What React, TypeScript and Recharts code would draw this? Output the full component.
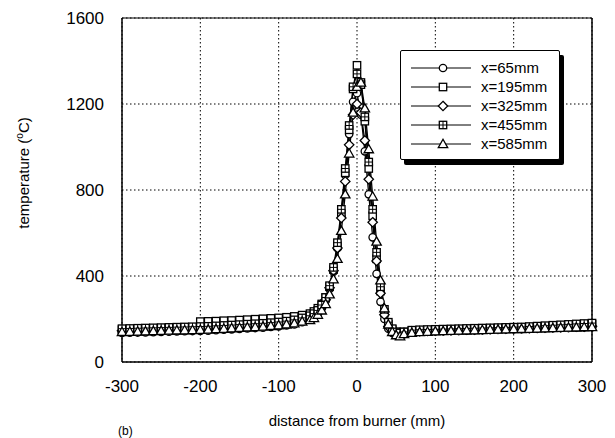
import React from "react"
import {
  LineChart,
  Line,
  XAxis,
  YAxis,
  CartesianGrid,
  ReferenceLine,
} from "recharts"

// distance from burner (mm)
const xs = [
  -300, -290, -280, -270, -260, -250, -240, -230, -220, -210, -200, -190,
  -180, -170, -160, -150, -140, -130, -120, -110, -100, -90, -80, -70,
  -60, -55, -50, -45, -40, -35, -30, -25, -20, -15, -10, -5, 0, 5, 10, 15,
  20, 25, 30, 35, 40, 45, 50, 55, 60,
  70, 80, 90, 100, 110, 120, 130, 140, 150, 160, 170, 180, 190, 200, 210,
  220, 230, 240, 250, 260, 270, 280, 290, 300,
]

// temperature (°C) for each measuring station
const x65 = [
  135, 136, 137, 138, 139, 140, 141, 142, 143, 144, 145, 146, 148, 150, 152,
  154, 156, 158, 160, 163, 166, 170, 175, 185,
  200, 210, 225, 250, 285, 340, 420, 530, 680, 870, 1060, 1210, 1250, 1150,
  980, 780, 580, 410, 280, 200, 155, 135, 125, 125, 130,
  138, 140, 141, 142, 143, 144, 145, 146, 147, 148, 149, 150, 151, 152, 153,
  154, 155, 156, 157, 158, 159, 160, 161, 162,
]
const x195 = [
  150, 150, 152, 153, 154, 155, 156, 157, 158, 160, 188, 189, 190, 192, 193,
  195, 197, 199, 201, 203, 205, 208, 212, 218,
  225, 235, 250, 270, 300, 350, 430, 540, 690, 880, 1080, 1270, 1380, 1300,
  1120, 900, 680, 480, 330, 230, 175, 150, 140, 135, 140,
  145, 147, 148, 149, 150, 151, 152, 153, 154, 155, 156, 157, 158, 159, 160,
  161, 162, 164, 166, 168, 170, 172, 174, 176,
]
const x325 = [
  145, 146, 147, 148, 149, 150, 151, 152, 153, 154, 155, 156, 158, 160, 162,
  164, 166, 168, 170, 173, 176, 180, 186, 195,
  205, 215, 230, 255, 290, 345, 425, 530, 670, 840, 1010, 1150, 1200, 1160,
  1030, 850, 650, 470, 320, 220, 165, 140, 130, 128, 135,
  142, 144, 145, 146, 147, 148, 149, 150, 151, 152, 153, 154, 155, 156, 157,
  158, 159, 160, 161, 162, 163, 164, 165, 166,
]
const x455 = [
  155, 156, 157, 158, 159, 160, 161, 162, 163, 164, 165, 166, 168, 170, 172,
  174, 176, 178, 180, 183, 186, 190, 196, 205,
  215, 225, 240, 265, 300, 355, 440, 555, 710, 900, 1100, 1280, 1340, 1290,
  1140, 930, 710, 510, 350, 245, 185, 155, 140, 135, 140,
  148, 150, 151, 152, 153, 154, 155, 156, 157, 158, 159, 160, 161, 162, 163,
  165, 167, 169, 171, 173, 175, 177, 179, 181,
]
const x585 = [
  140, 141, 142, 143, 144, 145, 146, 147, 148, 149, 150, 151, 153, 155, 157,
  159, 161, 163, 165, 168, 171, 175, 180, 188,
  195, 205, 220, 240, 270, 315, 385, 480, 610, 780, 970, 1160, 1280, 1300,
  1180, 990, 770, 560, 380, 250, 175, 140, 125, 120, 130,
  136, 139, 141, 143, 144, 145, 146, 147, 148, 149, 150, 151, 152, 153, 154,
  155, 156, 157, 158, 159, 160, 161, 162, 163,
]

const xTicks = [-300, -200, -100, 0, 100, 200, 300]
const yTicks = [0, 400, 800, 1200, 1600]

const series = [
  { key: "x65", name: "x=65mm", shape: "circle" },
  { key: "x195", name: "x=195mm", shape: "square" },
  { key: "x325", name: "x=325mm", shape: "diamond" },
  { key: "x455", name: "x=455mm", shape: "squarePlus" },
  { key: "x585", name: "x=585mm", shape: "triangle" },
]

const data = xs.map((x, i) => ({
  x,
  x65: x65[i],
  x195: x195[i],
  x325: x325[i],
  x455: x455[i],
  x585: x585[i],
}))

const FONT = "'Liberation Sans', Arial, Helvetica, sans-serif"

function Marker({ shape, cx, cy }: { shape: string; cx: number; cy: number }) {
  const s = 3.7
  const st = { fill: "#fff", stroke: "#000", strokeWidth: 1.3 }
  if (shape === "circle") return <circle cx={cx} cy={cy} r={s} {...st} />
  if (shape === "square")
    return <rect x={cx - s} y={cy - s} width={s * 2} height={s * 2} {...st} />
  if (shape === "diamond")
    return (
      <polygon
        points={`${cx},${cy - 4.7} ${cx + 4.7},${cy} ${cx},${cy + 4.7} ${cx - 4.7},${cy}`}
        {...st}
      />
    )
  if (shape === "squarePlus")
    return (
      <g>
        <rect x={cx - s} y={cy - s} width={s * 2} height={s * 2} {...st} />
        <line x1={cx - s} x2={cx + s} y1={cy} y2={cy} stroke="#000" />
        <line x1={cx} x2={cx} y1={cy - s} y2={cy + s} stroke="#000" />
      </g>
    )
  return (
    <polygon
      points={`${cx},${cy - 4.7} ${cx + 4.7},${cy + 3.6} ${cx - 4.7},${cy + 3.6}`}
      {...st}
    />
  )
}

function LegendBox() {
  return (
    <div
      style={{
        position: "absolute",
        left: 400,
        top: 50,
        width: 158,
        height: 108,
        border: "1.5px solid #000",
        boxShadow: "4px 5px 0 #000",
        background: "#fff",
        borderRadius: 2,
      }}
    >
      <svg width={158} height={108}>
        {series.map((s, i) => {
          const y = 17 + i * 19
          return (
            <g key={s.key}>
              <line x1={10} x2={70} y1={y} y2={y} stroke="#000" />
              <Marker shape={s.shape} cx={42} cy={y} />
              <text
                x={80}
                y={y + 5}
                fontFamily={FONT}
                fontSize={15}
                fill="#000"
              >
                {s.name}
              </text>
            </g>
          )
        })}
      </svg>
    </div>
  )
}

export default function App() {
  return (
    <div
      style={{
        position: "absolute",
        left: 0,
        top: 0,
        width: 615,
        height: 438,
        background: "#fff",
        fontFamily: FONT,
      }}
    >
      <LineChart
        width={615}
        height={438}
        data={data}
        margin={{ top: 18, right: 23, left: 0, bottom: 0 }}
      >
        <CartesianGrid stroke="#000" strokeDasharray="1.5 2.5" />
        <XAxis
          type="number"
          dataKey="x"
          domain={[-300, 300]}
          ticks={xTicks}
          height={76}
          tickLine={false}
          axisLine={{ stroke: "#000", strokeWidth: 1.5 }}
          tick={{ fill: "#000", fontSize: 17, fontFamily: FONT }}
          tickMargin={12}
          label={{
            value: "distance from burner (mm)",
            position: "insideBottom",
            offset: 12,
            fill: "#000",
            fontSize: 15,
            fontFamily: FONT,
          }}
        />
        <YAxis
          type="number"
          domain={[0, 1600]}
          ticks={yTicks}
          width={122}
          tickLine={false}
          axisLine={{ stroke: "#000", strokeWidth: 1.5 }}
          tick={{ fill: "#000", fontSize: 17, fontFamily: FONT }}
          tickMargin={12}
          label={(props: any) => {
            const vb = props.viewBox
            const cy = vb.y + vb.height / 2 - 17
            return (
              <text
                x={29}
                y={cy}
                transform={`rotate(-90, 29, ${cy})`}
                textAnchor="middle"
                fontFamily={FONT}
                fontSize={15}
                fill="#000"
              >
                temperature (
                <tspan dy={-6} fontSize={10}>
                  o
                </tspan>
                <tspan dy={6}>C)</tspan>
              </text>
            )
          }}
        />
        <ReferenceLine x={300} stroke="#000" strokeWidth={1.5} />
        <ReferenceLine y={1600} stroke="#000" strokeWidth={1} />
        {series.map((s) => (
          <Line
            key={s.key}
            dataKey={s.key}
            name={s.name}
            stroke="#000"
            strokeWidth={1.3}
            isAnimationActive={false}
            dot={(p: any) => (
              <Marker key={`${s.key}-${p.index}`} shape={s.shape} cx={p.cx} cy={p.cy} />
            )}
          />
        ))}
        <text x={118} y={435} fontFamily={FONT} fontSize={12} fill="#000">
          (b)
        </text>
      </LineChart>
      <LegendBox />
    </div>
  )
}
